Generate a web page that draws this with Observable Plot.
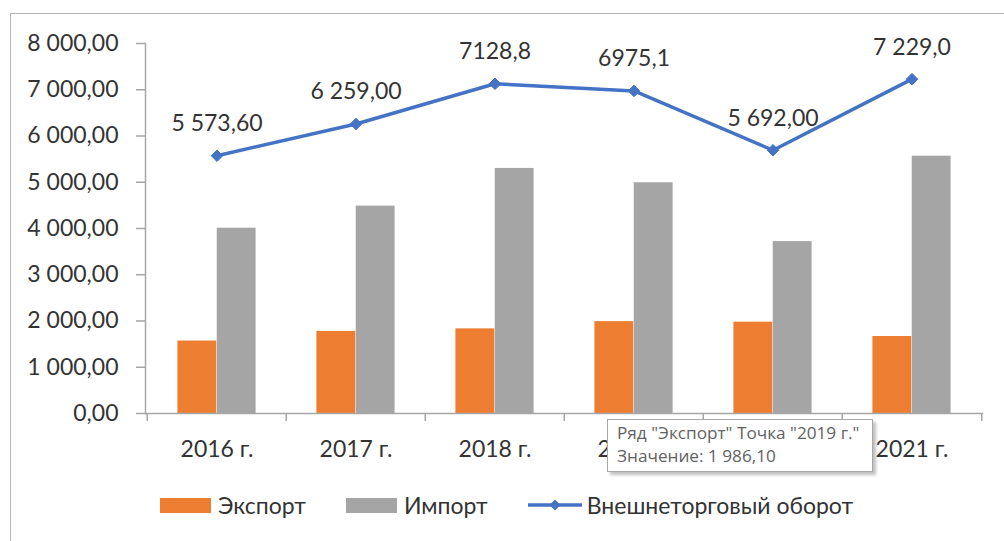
<!DOCTYPE html>
<html>
<head>
<meta charset="utf-8">
<script src="https://cdn.jsdelivr.net/npm/d3@7"></script>
<script src="https://cdn.jsdelivr.net/npm/@observablehq/plot@0.6"></script>
<style>
  html, body { margin: 0; padding: 0; background: #fff; }
  body { width: 1004px; height: 541px; overflow: hidden; font-family: Lato, "Open Sans", sans-serif; }
  #wrap { position: relative; width: 1004px; height: 541px; }
  #frame { position: absolute; left: 10px; top: 13px; width: 1010px; height: 540px;
           border-left: 1.5px solid #b3b3b3; border-top: 1.5px solid #b3b3b3; box-sizing: border-box; }
  #chart { position: absolute; left: 0; top: 0; }
  #legend { position: absolute; left: 160px; top: 490px; height: 30px; display: flex; align-items: center;
            font-size: 23px; color: #333; white-space: nowrap; }
  .sw { display: inline-block; width: 51px; height: 15px; margin-right: 7px; }
  .item { display: flex; align-items: center; margin-right: 40px; }
  #tip { position: absolute; left: 607px; top: 419px; width: 266px; height: 53px; box-sizing: border-box;
         background: #fff; border: 1px solid #a8a8a8; box-shadow: 3px 3px 3px rgba(0,0,0,0.25);
         font-family: "Open Sans", "Noto Sans", sans-serif; font-size: 17.2px; color: #626262; padding: 2px 0 0 9px;
         line-height: 22.5px; white-space: nowrap; }
</style>
</head>
<body>
<div id="wrap">
  <div id="frame"></div>
  <div id="chart"></div>
  <div id="legend"></div>
  <div id="tip"></div>
</div>
<script>
const years = ["2016 г.", "2017 г.", "2018 г.", "2019 г.", "2020 г.", "2021 г."];
const exportVals = [1567, 1775, 1830, 1986.1, 1975, 1665];
const importVals = [4006.6, 4484, 5298.8, 4989, 3717, 5564];
const turnoverVals = [5573.6, 6259, 7128.8, 6975.1, 5692, 7229];
const turnoverLabels = ["5 573,60", "6 259,00", "7128,8", "6975,1", "5 692,00", "7 229,0"];
const yTicks = [0, 1000, 2000, 3000, 4000, 5000, 6000, 7000, 8000];
const seriesNames = ["Экспорт", "Импорт", "Внешнеторговый оборот"];
const colors = ["#ED7D31", "#A5A5A5", "#4472C4"];
const tooltipLines = ['Ряд "Экспорт" Точка "2019 г."', 'Значение: 1 986,10'];

const data = years.map((y, i) => ({
  year: y, exp: exportVals[i], imp: importVals[i], total: turnoverVals[i], label: turnoverLabels[i]
}));

const W = 1004, H = 478, ML = 145, MR = 22, MT = 43, MB = 65;
const band = (W - ML - MR) / years.length;
const plotH = H - MT - MB;
const fmt = d3.formatLocale({decimal: ",", thousands: " ", grouping: [3]}).format(",.2f");
const axisColor = "#a6a6a6";
const textColor = "#333";

const chart = Plot.plot({
  width: W, height: H,
  marginLeft: ML, marginRight: MR, marginTop: MT, marginBottom: MB,
  style: {fontFamily: "Lato, 'Open Sans', sans-serif", fontSize: "23px", color: textColor, background: "transparent"},
  x: {type: "band", domain: years, padding: 0, axis: null},
  y: {domain: [0, 8000], axis: null},
  marks: [
    Plot.barY(data, {x: "year", y: "exp", fill: colors[0], insetLeft: band * 0.218, insetRight: band * 0.5}),
    Plot.barY(data, {x: "year", y: "imp", fill: colors[1], insetLeft: band * 0.5, insetRight: band * 0.218}),
    Plot.frame({anchor: "left", stroke: axisColor, strokeWidth: 1.5}),
    Plot.frame({anchor: "bottom", stroke: axisColor, strokeWidth: 1.5}),
    Plot.axisY({ticks: yTicks, tickFormat: fmt, tickSize: 9, tickPadding: 18, stroke: axisColor, strokeWidth: 1.5,
                fill: textColor, fontSize: 23, label: null}),
    Plot.axisX({tickSize: 0, tickPadding: 27, fill: textColor, fontSize: 23, label: null}),
    Plot.ruleX(years, {x: d => d, dx: -band / 2, insetTop: plotH, insetBottom: -8, stroke: axisColor, strokeWidth: 1.5}),
    Plot.ruleX([years[years.length - 1]], {x: d => d, dx: band / 2, insetTop: plotH, insetBottom: -8, stroke: axisColor, strokeWidth: 1.5}),
    Plot.line(data, {x: "year", y: "total", stroke: colors[2], strokeWidth: 3.5}),
    Plot.dot(data, {x: "year", y: "total", symbol: "diamond2", r: 5.2, fill: colors[2], stroke: colors[2], strokeWidth: 1}),
    Plot.text(data, {x: "year", y: "total", text: "label", dy: -32, fontSize: 23, fill: textColor})
  ]
});
document.getElementById("chart").appendChild(chart);

// legend
const legend = document.getElementById("legend");
seriesNames.forEach((name, i) => {
  const item = document.createElement("div");
  item.className = "item";
  if (i < 2) {
    const sw = document.createElement("span");
    sw.className = "sw";
    sw.style.background = colors[i];
    item.appendChild(sw);
  } else {
    const svg = d3.create("svg").attr("width", 54).attr("height", 14).style("margin-right", "5px");
    svg.append("line").attr("x1", 0).attr("x2", 54).attr("y1", 7).attr("y2", 7)
      .attr("stroke", colors[2]).attr("stroke-width", 3.5);
    svg.append("path").attr("d", "M27,1.5L32.5,7L27,12.5L21.5,7Z").attr("fill", colors[2]);
    item.appendChild(svg.node());
  }
  const t = document.createElement("span");
  t.textContent = name;
  item.appendChild(t);
  legend.appendChild(item);
});

// tooltip
const tip = document.getElementById("tip");
tooltipLines.forEach(l => { const d = document.createElement("div"); d.textContent = l; tip.appendChild(d); });
</script>
</body>
</html>
